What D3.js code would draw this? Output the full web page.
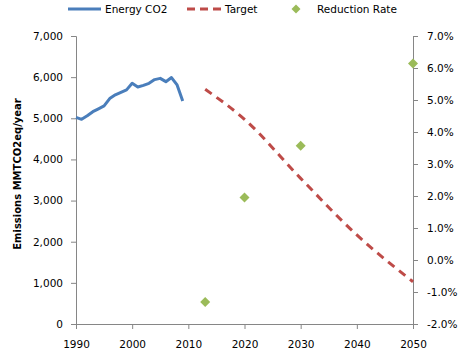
<!DOCTYPE html>
<html><head><meta charset="utf-8">
<script src="https://cdn.jsdelivr.net/npm/d3@7/dist/d3.min.js"></script>
<style>body{margin:0;background:#fff}svg{display:block}text{font-family:"DejaVu Sans",Verdana,sans-serif}</style>
</head><body><svg id="c" width="462" height="358"></svg>
<script>
const energyYears = [1990,1991,1992,1993,1994,1995,1996,1997,1998,1999,2000,2001,2002,2003,2004,2005,2006,2007,2008,2009];
const energyValues = [5024,4975,5060,5160,5230,5300,5480,5570,5630,5690,5850,5760,5800,5850,5940,5970,5890,5990,5810,5420];
const targetYears = [2013,2020,2030,2040,2050];
const targetValues = [5705,4975,3540,2165,1028];
const rateYears = [2013,2020,2030,2050];
const rateValues = [-1.31,1.95,3.57,6.14];
const xTicks = [1990,2000,2010,2020,2030,2040,2050];
const yLeftTicks = [0,1000,2000,3000,4000,5000,6000,7000];
const yRightTicks = [-2,-1,0,1,2,3,4,5,6,7];

const svg = d3.select("#c");
const x = d3.scaleLinear().domain([1990,2050]).range([76,413]);
const yL = d3.scaleLinear().domain([0,7000]).range([324,36]);
const yR = d3.scaleLinear().domain([-2,7]).range([324,36]);
const axisColor = "#868686";
const fs = "10.5px";

function style(g){
  g.select(".domain").attr("stroke",axisColor);
  g.selectAll(".tick line").attr("stroke",axisColor);
  g.selectAll(".tick text").attr("fill","#000").style("font-size",fs);
}
svg.append("g").attr("transform","translate(76,0)")
  .call(d3.axisLeft(yL).tickValues(yLeftTicks).tickFormat(d3.format(",")).tickSize(5).tickSizeOuter(5).tickPadding(8))
  .call(style);
svg.append("g").attr("transform","translate(413,0)")
  .call(d3.axisRight(yR).tickValues(yRightTicks).tickFormat(d=>d.toFixed(1)+"%").tickSize(5).tickSizeOuter(5).tickPadding(9))
  .call(style);
svg.append("g").attr("transform","translate(0,324)")
  .call(d3.axisBottom(x).tickValues(xTicks).tickFormat(d3.format("d")).tickSize(5).tickSizeOuter(0).tickPadding(12))
  .call(style);

svg.append("text").attr("transform","translate(21,174) rotate(-90)")
  .attr("text-anchor","middle").style("font-size","10px").style("font-weight","bold")
  .text("Emissions MMTCO2eq/year");

const line = d3.line().x(d=>x(d[0])).y(d=>yL(d[1]));
svg.append("path").datum(energyYears.map((y,i)=>[y,energyValues[i]]))
  .attr("d",line).attr("fill","none").attr("stroke","#4a7ebb").attr("stroke-width",3).attr("stroke-linejoin","round");
svg.append("path").datum(targetYears.map((y,i)=>[y,targetValues[i]]))
  .attr("d",d3.line().x(d=>x(d[0])).y(d=>yL(d[1])).curve(d3.curveMonotoneX))
  .attr("fill","none").attr("stroke","#be4b48").attr("stroke-width",3).attr("stroke-dasharray","8,6");
svg.selectAll(".pt").data(rateYears.map((y,i)=>[y,rateValues[i]])).join("path")
  .attr("d",d3.symbol().type(d3.symbolSquare).size(50))
  .attr("transform",d=>`translate(${x(d[0])},${yR(d[1])}) rotate(45)`)
  .attr("fill","#9bbb59");

// legend
const lg = svg.append("g");
lg.append("line").attr("x1",68).attr("x2",101).attr("y1",9).attr("y2",9).attr("stroke","#4a7ebb").attr("stroke-width",3);
lg.append("text").attr("x",105).attr("y",13).style("font-size",fs).text("Energy CO2");
lg.append("line").attr("x1",187).attr("x2",222).attr("y1",9).attr("y2",9).attr("stroke","#be4b48").attr("stroke-width",3).attr("stroke-dasharray","8,5");
lg.append("text").attr("x",225).attr("y",13).style("font-size",fs).text("Target");
lg.append("path").attr("d",d3.symbol().type(d3.symbolSquare).size(40)).attr("transform","translate(296,9) rotate(45)").attr("fill","#9bbb59");
lg.append("text").attr("x",317).attr("y",13).style("font-size",fs).text("Reduction Rate");
</script></body></html>
